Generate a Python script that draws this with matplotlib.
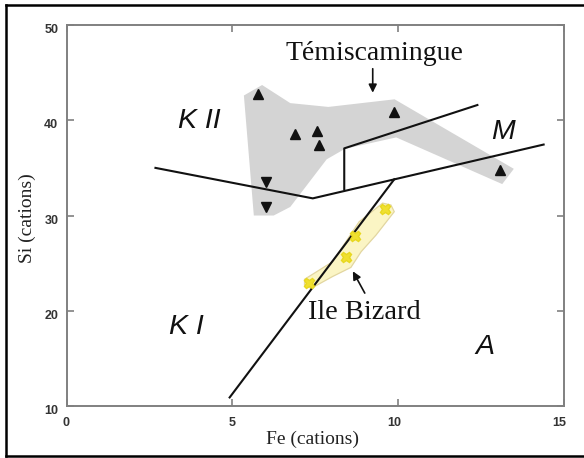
import matplotlib.pyplot as plt
import matplotlib.transforms as mtransforms
from matplotlib.lines import Line2D
from matplotlib.patches import Polygon

# Témiscamingue field (grey) and samples
tem_field_x = [5.35, 5.9, 6.75, 7.9, 9.9, 13.5, 13.15, 9.95, 8.4, 7.85, 6.75, 6.25, 5.65]
tem_field_y = [42.6, 43.7, 41.8, 41.4, 42.2, 34.9, 33.3, 38.2, 37.0, 35.9, 30.9, 30.0, 30.0]
tem_up_x = [5.77, 6.88, 7.55, 7.63, 9.89, 13.08]
tem_up_y = [42.8, 38.6, 38.9, 37.4, 40.9, 34.8]
tem_down_x = [6.02, 6.02]
tem_down_y = [33.55, 30.86]

# Ile Bizard field (yellow) and samples
ib_field_x = [7.18, 8.03, 8.83, 9.54, 9.79, 9.89, 9.34, 8.89, 8.58, 8.03, 7.38, 7.18]
ib_field_y = [23.3, 25.15, 29.35, 31.3, 31.1, 30.4, 27.95, 26.2, 24.55, 23.6, 22.35, 22.7]
ib_x = [7.33, 8.43, 8.71, 9.6]
ib_y = [22.95, 25.6, 27.8, 30.7]

# field boundaries
kia_x = [4.92, 9.89]
kia_y = [10.9, 33.8]
lower_x = [2.68, 7.43, 14.4]
lower_y = [35.0, 31.8, 37.45]
upper_x = [8.38, 8.38, 12.4]
upper_y = [32.75, 37.05, 41.6]

# field names
field_names = ['K II', 'M', 'K I', 'A']
field_x = [3.99, 13.16, 3.6, 12.63]
field_y = [39.9, 38.75, 18.3, 16.2]

xticks = [0, 5, 10, 15]
yticks = [10, 20, 30, 40, 50]

fig = plt.figure(figsize=(5.84, 4.58), dpi=100)
ax = fig.add_axes([0.1142, 0.1135, 0.8507, 0.8319])

ax.add_patch(Polygon(list(zip(tem_field_x, tem_field_y)), closed=True,
                     facecolor='#d4d4d4', edgecolor='none', zorder=1))
ax.add_patch(Polygon(list(zip(ib_field_x, ib_field_y)), closed=True,
                     facecolor='#fbf5c4', edgecolor='#e2d6a0', lw=0.9, zorder=1))

line_kw = dict(color='#111111', lw=1.5, zorder=3)
ax.plot(kia_x, kia_y, **line_kw)
ax.plot(lower_x, lower_y, **line_kw)
ax.plot(upper_x, upper_y, **line_kw)

ax.plot(tem_up_x, tem_up_y, '^', color='#111111', ms=7, zorder=4)
ax.plot(tem_down_x, tem_down_y, 'v', color='#111111', ms=7, zorder=4)
ax.plot(ib_x, ib_y, 'X', color='#f0e030', mec='#e8d820', ms=7.5, zorder=4)

for name, x, y in zip(field_names, field_x, field_y):
    ax.text(x, y, name, ha='center', va='center', fontsize=20.5, style='italic',
            family='Liberation Sans', color='#111111')

arrow_kw = dict(arrowstyle='-|>', color='#111111', lw=1.2, mutation_scale=12)
ax.annotate('', xy=(9.24, 42.6), xytext=(9.24, 45.7), arrowprops=arrow_kw)
ax.text(9.29, 47.05, 'Témiscamingue', ha='center', va='center', fontsize=20,
        family='Liberation Serif', color='#111111')
ax.annotate('', xy=(8.6, 24.4), xytext=(9.04, 21.6), arrowprops=arrow_kw)
ax.text(8.98, 19.85, 'Ile Bizard', ha='center', va='center', fontsize=20.5,
        family='Liberation Serif', color='#111111')

ax.set_xlim(0, 15)
ax.set_ylim(10, 50)
ax.set_xticks(xticks)
ax.set_yticks(yticks)
ax.set_xticklabels([str(t) for t in xticks], ha='right')
ax.set_yticklabels([str(t) for t in yticks])
for sp in ax.spines.values():
    sp.set_color('#808080')
    sp.set_linewidth(1.4)
ax.tick_params(direction='in', length=5, width=1.2, color='#808080',
               top=True, right=True, labelsize=9, labelcolor='#333333')
ax.tick_params(axis='x', pad=8)
ax.tick_params(axis='y', pad=6)

dx = mtransforms.ScaledTranslation(3 / 100, 0, fig.dpi_scale_trans)
dy = mtransforms.ScaledTranslation(0, -3.5 / 100, fig.dpi_scale_trans)
for lab in ax.get_xticklabels():
    lab.set_transform(lab.get_transform() + dx)
    lab.set_fontweight('bold')
    lab.set_family('Liberation Sans')
for lab in ax.get_yticklabels():
    lab.set_transform(lab.get_transform() + dy)
    lab.set_fontweight('bold')
    lab.set_family('Liberation Sans')

ax.set_xlabel('Fe (cations)', fontsize=14, family='Liberation Serif', color='#222222')
ax.set_ylabel('Si (cations)', fontsize=14, family='Liberation Serif', color='#222222')
ax.xaxis.label.set_va('center')
ax.yaxis.label.set_va('center')
ax.xaxis.set_label_coords(0.495, -0.0866)
ax.yaxis.set_label_coords(-0.08, 0.494)

# black frame around the picture (open on the right)
fig.add_artist(Line2D([0.0108, 0.0108], [0.0048, 0.9884], color='black', lw=1.8))
fig.add_artist(Line2D([0.0108, 1.0], [0.9884, 0.9884], color='black', lw=1.8))
fig.add_artist(Line2D([0.0108, 1.0], [0.0048, 0.0048], color='black', lw=1.8))

fig.savefig('out.png', dpi=100)
